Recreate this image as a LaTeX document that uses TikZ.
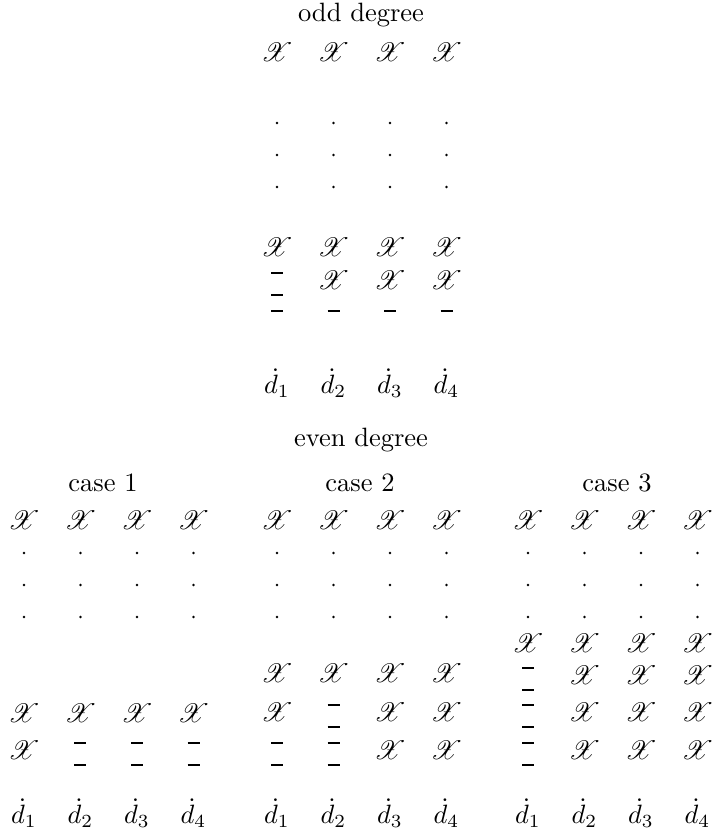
\documentclass[tikz,border=0pt]{standalone}
\usepackage{amsmath, amssymb, mathrsfs}
\usetikzlibrary{positioning}

\newcommand{\scx}{$\mathscr{X}$}
\newcommand{\dotd}[1]{$\dot{d}_{#1}$}
\newcommand{\hole}[2]{\draw[bar] ({#1-6},{#2-7}) -- ++(12,0) ({#1-6},{#2+15}) -- ++(12,0);}

\begin{document}
\begin{tikzpicture}[x=0.3774pt, y=-0.3774pt,
  sym/.style={inner sep=0pt},
  bar/.style={line width=0.45pt},
  pt/.style={fill=black}]
\useasboundingbox (0,0) rectangle (711,828);

% odd degree
\node[sym] (odd) at (361,15) {odd degree};
\foreach \c in {1,...,4} {
  \pgfmathsetmacro{\xx}{220.5+56.5*\c}
  \node[sym] (o-top\c) at (\xx,52) {\scx};
  \foreach \yy in {123,155,187} \fill[pt] (\xx,\yy) circle (1.3);
  \node[sym] (o-a\c) at (\xx,247) {\scx};
  \draw[bar] ({\xx-6},311) -- ++(12,0);
  \node[sym] (o-d\c) at (\xx,383) {\dotd{\c}};
}
\hole{277}{280}
\foreach \c in {2,3,4}
  \node[sym] (o-b\c) at (220.5+56.5*\c,280) {\scx};

% even degree
\node[sym] (even) at (361,440) {even degree};
\foreach \k/\xo/\xl in {1/-32.5/103, 2/220.5/360, 3/471.5/617} {
  \node[sym] (case\k) at (\xl,483) {case \k};
  \foreach \c in {1,...,4} {
    \pgfmathsetmacro{\xx}{\xo+56.5*\c}
    \node[sym] (e\k-top\c) at (\xx,520) {\scx};
    \foreach \yy in {553,585,617} \fill[pt] (\xx,\yy) circle (1.3);
    \node[sym] (e\k-d\c) at (\xx,813) {\dotd{\c}};
  }
}

% case 1
\foreach \c in {1,...,4}
  \node[sym] (e1-a\c) at (-32.5+56.5*\c,713) {\scx};
\node[sym] (e1-b1) at (24,750) {\scx};
\foreach \c in {2,3,4} {\hole{-32.5+56.5*\c}{750}}

% case 2
\foreach \c in {1,...,4}
  \node[sym] (e2-a\c) at (220.5+56.5*\c,673) {\scx};
\node[sym] (e2-b1) at (277,712) {\scx};
\hole{333.5}{712}
\foreach \c in {3,4} {
  \node[sym] (e2-b\c) at (220.5+56.5*\c,712) {\scx};
  \node[sym] (e2-c\c) at (220.5+56.5*\c,750) {\scx};
}
\hole{277}{750}
\hole{333.5}{750}

% case 3
\foreach \c in {1,...,4}
  \node[sym] (e3-a\c) at (471.5+56.5*\c,643) {\scx};
\foreach \yy in {675,712,750} {
  \hole{528}{\yy}
  \foreach \c in {2,3,4}
    \node[sym] (e3-r\yy-\c) at (471.5+56.5*\c,\yy) {\scx};
}
\end{tikzpicture}
\end{document}
